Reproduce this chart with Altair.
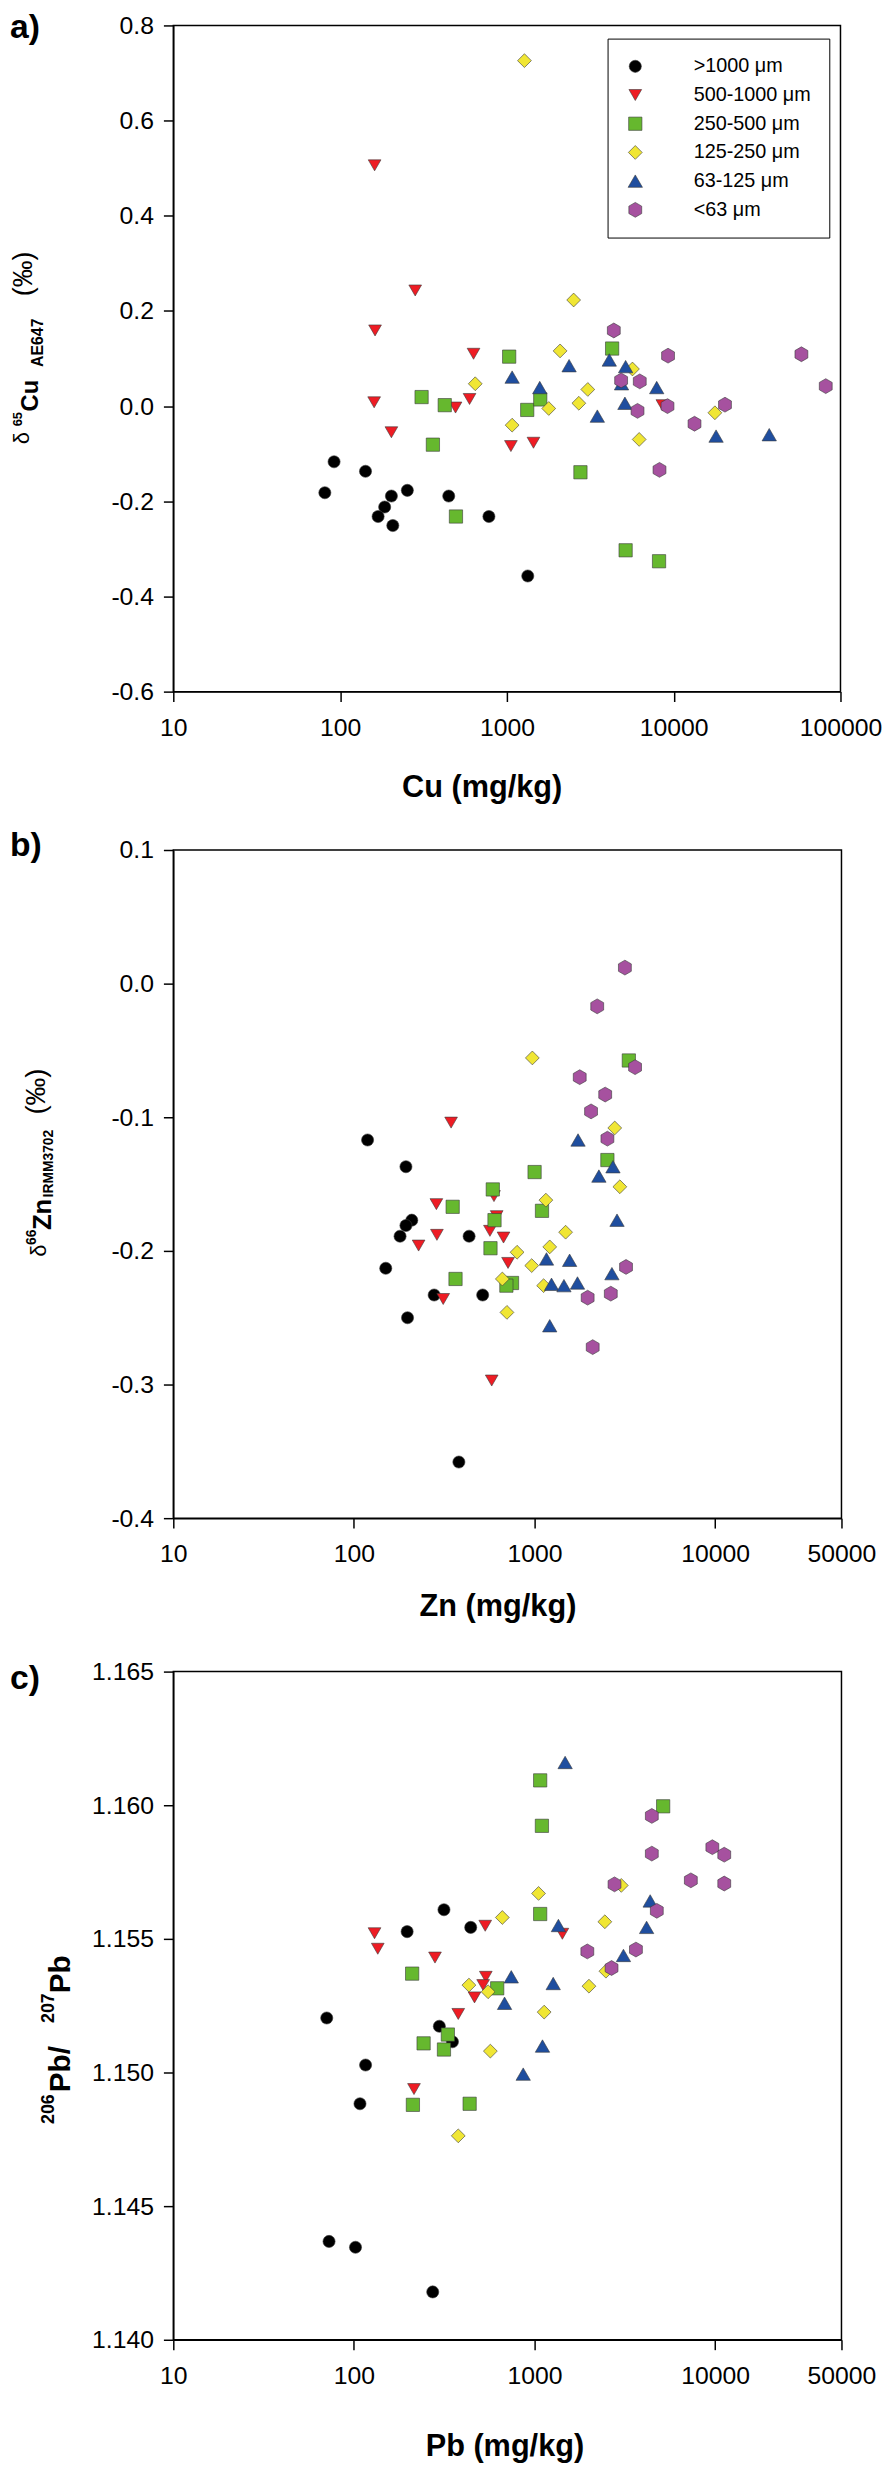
import altair as alt
import pandas as pd

FONT = "Liberation Sans, Arial, Helvetica, sans-serif"

CLASSES = [">1000 μm", "500-1000 μm", "250-500 μm", "125-250 μm", "63-125 μm", "<63 μm"]
COLORS = ["#000000", "#ee1c24", "#66b82e", "#f0e634", "#1f4e9f", "#a6519f"]
HEX = "M0,-1L0.866,-0.5L0.866,0.5L0,1L-0.866,0.5L-0.866,-0.5Z"
SHAPES = ["circle", "triangle-down", "square", "diamond", "triangle-up", HEX]
SIZES = [150, 225, 196, 340, 225, 289]

# ---------------- panel a: Cu ----------------
cu_c1 = [92, 142, 81, 253, 203, 185, 169, 207, 448, 780, 1334]
cu_d1 = [-0.117, -0.137, -0.182, -0.177, -0.189, -0.212, -0.232, -0.251, -0.189, -0.232, -0.357]
cu_c2 = [161, 162, 282, 631, 160, 492, 597, 203, 1057, 1443, 8550]
cu_d2 = [0.506, 0.159, 0.243, 0.110, 0.008, -0.003, 0.015, -0.055, -0.084, -0.077, 0.002]
cu_c3 = [308, 424, 1032, 4275, 1324, 1585, 360, 495, 2760, 5150, 8170]
cu_d3 = [0.019, 0.002, 0.104, 0.121, -0.008, 0.014, -0.081, -0.232, -0.139, -0.303, -0.326]
cu_c4 = [1274, 2513, 2084, 5660, 646, 3055, 2700, 1782, 1075, 6210, 17660]
cu_d4 = [0.726, 0.223, 0.116, 0.078, 0.047, 0.035, 0.006, -0.005, -0.040, -0.070, -0.014]
cu_c5 = [1075, 1574, 2360, 4110, 5150, 4866, 7910, 5100, 3485, 17950, 37400]
cu_d5 = [0.061, 0.039, 0.085, 0.097, 0.083, 0.047, 0.039, 0.006, -0.021, -0.063, -0.060]
cu_c6 = [4375, 9250, 58300, 81600, 4840, 6260, 9180, 20300, 6070, 13330, 8220]
cu_d6 = [0.159, 0.106, 0.109, 0.042, 0.054, 0.052, 0.000, 0.003, -0.010, -0.037, -0.134]

# ---------------- panel b: Zn ----------------
zn_c1 = [119, 194, 209, 194, 180, 434, 150, 278, 516, 198, 381]
zn_d1 = [-0.117, -0.137, -0.177, -0.181, -0.189, -0.189, -0.213, -0.233, -0.233, -0.250, -0.358]
zn_c2 = [345, 286, 596, 617, 288, 566, 673, 228, 713, 312, 579]
zn_d2 = [-0.104, -0.165, -0.159, -0.174, -0.188, -0.185, -0.190, -0.196, -0.209, -0.236, -0.297]
zn_c3 = [3325, 2530, 1000, 587, 352, 600, 1099, 570, 365, 750, 698]
zn_d3 = [-0.0575, -0.132, -0.141, -0.154, -0.167, -0.177, -0.170, -0.198, -0.221, -0.224, -0.226]
zn_c4 = [972, 2778, 2965, 1155, 1485, 800, 1213, 964, 663, 1122, 703]
zn_d4 = [-0.0556, -0.108, -0.152, -0.162, -0.186, -0.201, -0.197, -0.211, -0.221, -0.226, -0.246]
zn_c5 = [1740, 2716, 2270, 2860, 1164, 1563, 2680, 1241, 1454, 1728, 1213]
zn_d5 = [-0.117, -0.137, -0.144, -0.177, -0.206, -0.207, -0.217, -0.225, -0.226, -0.224, -0.256]
zn_c6 = [3162, 2222, 3600, 1778, 2460, 2054, 2530, 3208, 2642, 1967, 2098]
zn_d6 = [0.012, -0.017, -0.0625, -0.070, -0.083, -0.0956, -0.116, -0.212, -0.232, -0.235, -0.272]

# ---------------- panel c: Pb ----------------
pb_c1 = [315, 197, 443, 70.7, 297, 351, 116, 108, 72.8, 102, 273]
pb_r1 = [1.15609, 1.15527, 1.15543, 1.15204, 1.15173, 1.15115, 1.15028, 1.14883, 1.14368, 1.14346, 1.14179]
pb_c2 = [130, 135.5, 281, 533, 1425, 537, 519, 465, 378, 215]
pb_r2 = [1.15521, 1.15463, 1.15430, 1.15549, 1.15519, 1.15358, 1.15327, 1.15281, 1.15219, 1.14938]
pb_c3 = [1074, 1098, 5150, 1074, 210, 621, 331, 243, 315, 212, 437]
pb_r3 = [1.16093, 1.15923, 1.15996, 1.15593, 1.15370, 1.15315, 1.15142, 1.15109, 1.15086, 1.14879, 1.14883]
pb_c4 = [1052, 663, 2449, 3020, 433, 553, 2000, 2483, 1130, 569, 378]
pb_r4 = [1.15670, 1.15580, 1.15564, 1.15700, 1.15327, 1.15302, 1.15323, 1.15379, 1.15226, 1.15080, 1.14763]
pb_c5 = [1476, 1355, 4365, 4170, 3105, 743, 1268, 682, 1106, 865]
pb_r5 = [1.16160, 1.15550, 1.15642, 1.15543, 1.15438, 1.15358, 1.15333, 1.15259, 1.15099, 1.14994]
pb_c6 = [4457, 4457, 9640, 11220, 7330, 11220, 2770, 4750, 1959, 3640, 2668]
pb_r6 = [1.15960, 1.15819, 1.15843, 1.15815, 1.15719, 1.15707, 1.15704, 1.15605, 1.15453, 1.15460, 1.15391]


def frame(concs, vals):
    rows = []
    k = 0
    for cls, cs, vs in zip(CLASSES, concs, vals):
        for c, v in zip(cs, vs):
            rows.append({"conc": c, "val": v, "cls": cls, "k": k})
            k += 1
    return pd.DataFrame(rows)


df_a = frame([cu_c1, cu_c2, cu_c3, cu_c4, cu_c5, cu_c6], [cu_d1, cu_d2, cu_d3, cu_d4, cu_d5, cu_d6])
df_b = frame([zn_c1, zn_c2, zn_c3, zn_c4, zn_c5, zn_c6], [zn_d1, zn_d2, zn_d3, zn_d4, zn_d5, zn_d6])
df_c = frame([pb_c1, pb_c2, pb_c3, pb_c4, pb_c5, pb_c6], [pb_r1, pb_r2, pb_r3, pb_r4, pb_r5, pb_r6])


def txt(s, x, y, size, weight="bold", angle=0, align="left"):
    return alt.Chart(pd.DataFrame({"t": [s]})).mark_text(
        align=align, baseline="alphabetic", fontSize=size, fontWeight=weight,
        angle=angle, font=FONT, color="black"
    ).encode(text="t:N", x=alt.value(x), y=alt.value(y))


def spacer(y1, y2):
    # white layout guide (drawn under everything) fixing each panel's vertical extent
    return alt.Chart(pd.DataFrame({"t": [0]})).mark_rule(color="white", strokeWidth=1).encode(
        x=alt.value(-165.5), y=alt.value(y1), y2=alt.value(y2))


def points(df, xdom, xvals, ydom, yvals, dec, w, h, legend):
    if legend:
        leg = alt.Legend(title=None, orient="none", legendX=438.7, legendY=13.3,
                         strokeColor="black", fillColor="white", padding=18,
                         labelFontSize=20, labelFont=FONT, labelColor="black",
                         rowPadding=9, labelOffset=49, symbolStrokeWidth=0.6,
                         symbolStrokeColor="#3a3a3a")
    else:
        leg = None
    lab = ("datum.value < -1e-9 ? '-' + format(-datum.value, '.%df') : format(abs(datum.value), '.%df')"
           % (dec, dec))
    return alt.Chart(df).mark_point(
        filled=True, opacity=1, stroke="#3a3a3a", strokeWidth=0.6
    ).encode(
        x=alt.X("conc:Q",
                scale=alt.Scale(type="log", domain=xdom, nice=False),
                axis=alt.Axis(values=xvals, format="d", title=None, labelFlush=False,
                              labelOverlap=False, labelPadding=14)),
        y=alt.Y("val:Q",
                scale=alt.Scale(domain=ydom, nice=False, zero=False),
                axis=alt.Axis(values=yvals, labelExpr=lab, title=None, labelPadding=10,
                              labelOverlap=False)),
        color=alt.Color("cls:N", scale=alt.Scale(domain=CLASSES, range=COLORS), legend=leg),
        shape=alt.Shape("cls:N", scale=alt.Scale(domain=CLASSES, range=SHAPES), legend=leg),
        size=alt.Size("cls:N", scale=alt.Scale(domain=CLASSES, range=SIZES), legend=leg),
        order=alt.Order("k:Q"),
    ).properties(width=w, height=h)


pa = points(df_a, [10, 100000], [10, 100, 1000, 10000, 100000], [-0.6, 0.8],
            [-0.6, -0.4, -0.2, 0.0, 0.2, 0.4, 0.6, 0.8], 1, 674, 673, True)
panel_a = alt.layer(
    spacer(-40, 673 + 120),
    pa,
    txt("a)", -165, 13, 34),
    txt("δ", -146, 423, 22, "normal", 270),
    txt("65", -153, 405, 13, "bold", 270),
    txt("Cu", -137, 390, 24, "bold", 270),
    txt("AE647", -132, 345, 16, "bold", 270),
    txt("(‰)", -143, 251, 27, "normal", 270, "center"),
    txt("Cu (mg/kg)", 312, 779, 31, "bold", 0, "center"),
)

pb = points(df_b, [10, 50000], [10, 100, 1000, 10000, 50000], [-0.4, 0.1],
            [-0.4, -0.3, -0.2, -0.1, 0.0, 0.1], 1, 675, 675, False)
panel_b = alt.layer(
    spacer(-36, 675 + 118),
    pb,
    txt("b)", -165, 6, 34),
    txt("δ", -129, 411, 22, "normal", 270),
    txt("66", -139, 399, 14, "bold", 270),
    txt("Zn", -124, 384, 26, "bold", 270),
    txt("IRMM3702", -122, 351, 14, "bold", 270),
    txt("(‰)", -130, 244, 28, "normal", 270, "center"),
    txt("Zn (mg/kg)", 328, 774, 31, "bold", 0, "center"),
)

pc = points(df_c, [10, 50000], [10, 100, 1000, 10000, 50000], [1.140, 1.165],
            [1.140, 1.145, 1.150, 1.155, 1.160, 1.165], 3, 675, 675, False)
panel_c = alt.layer(
    spacer(-33, 675),
    pc,
    txt("c)", -165, 18, 34),
    txt("206", -121, 457, 18, "bold", 270),
    txt("Pb/", -104, 425, 30, "bold", 270),
    txt("207", -121, 355, 18, "bold", 270),
    txt("Pb", -104, 325, 30, "bold", 270),
    txt("Pb (mg/kg)", 335, 792, 31, "bold", 0, "center"),
)

chart = alt.vconcat(panel_a, panel_b, panel_c, spacing=0).resolve_scale(
    color="independent", shape="independent", size="independent"
).properties(
    padding={"left": 0, "top": -37, "right": 5, "bottom": 0}
).configure_axis(
    labelFont=FONT, labelFontSize=25, labelColor="black", tickColor="black",
    domainColor="black", tickSize=10, tickWidth=1.5, domainWidth=1.5, grid=False
).configure_view(
    stroke="black", strokeWidth=1.5
)

chart.save("out.html", embed_options={"renderer": "svg", "actions": False})
